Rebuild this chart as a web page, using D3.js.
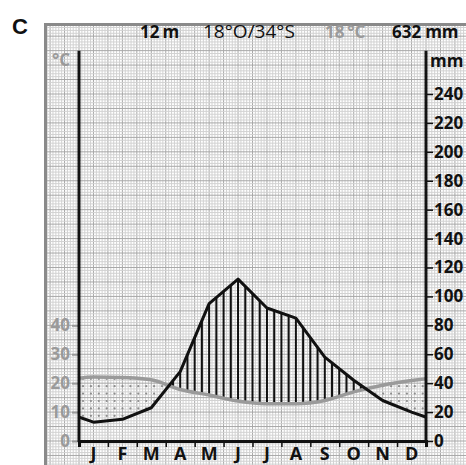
<!DOCTYPE html>
<html><head><meta charset="utf-8">
<script src="https://cdn.jsdelivr.net/npm/d3@7"></script>
<style>
html,body{margin:0;padding:0;background:#fff;}
svg{display:block;font-family:"Open Sans",sans-serif;}
</style></head>
<body><svg id="c" width="466" height="465"></svg>
<script>
const months = ["J","F","M","A","M","J","J","A","S","O","N","D"];
const tempC = [22.1, 22.0, 21.2, 17.8, 15.9, 13.8, 12.9, 12.9, 14.0, 17.0, 19.3, 20.9];
const precipMm = [13, 15, 23, 48, 95, 112, 92, 85, 58, 42, 28, 20];
const tempTicks = [0, 10, 20, 30, 40];
const precipTicks = [0,20,40,60,80,100,120,140,160,180,200,220,240];
const header = {elev:"12", coords:"18°O/34°S", mean:"18", total:"632"};

const svg = d3.select("#c");
const x = d3.scaleLinear().domain([0, 12]).range([79, 426]);
const yP = d3.scaleLinear().domain([0, 240]).range([441, 94]);
const yT = d3.scaleLinear().domain([0, 120]).range([441, 94]);

// grid
const grid = svg.append("g");
const gx0 = x.invert(47), gx1 = x.invert(466);
const gy0 = yP.invert(465), gy1 = yP.invert(26);
for (let k = Math.ceil(gx0*10); k <= gx1*10; k++) {
  const major = k % 5 === 0;
  grid.append("line").attr("x1", x(k/10)).attr("x2", x(k/10)).attr("y1", 26).attr("y2", 465)
    .attr("stroke", major ? "#a8a8a8" : "#d2d2d2").attr("stroke-width", 1);
}
for (let k = Math.ceil(gy0/2); k <= gy1/2; k++) {
  const major = k % 5 === 0;
  grid.append("line").attr("y1", yP(k*2)).attr("y2", yP(k*2)).attr("x1", 47).attr("x2", 466)
    .attr("stroke", major ? "#a8a8a8" : "#d2d2d2").attr("stroke-width", 1);
}
// frame
svg.append("rect").attr("x",44).attr("y",23).attr("width",3).attr("height",442).attr("fill","#8a8a8a");
svg.append("rect").attr("x",44).attr("y",23).attr("width",422).attr("height",3).attr("fill","#8a8a8a");

// cyclic data (Dec before Jan, Jan after Dec) clipped to plot
const cyc = arr => [{m:-0.5, v:arr[11]}, ...arr.map((v,i)=>({m:i+0.5, v})), {m:12.5, v:arr[0]}];
const pData = cyc(precipMm), tData = cyc(tempC);

const defs = svg.append("defs");
defs.append("clipPath").attr("id","plot").append("rect")
  .attr("x", x(0)).attr("y", yP(270)).attr("width", x(12)-x(0)).attr("height", yP(0)-yP(270));
const tCurve = d3.curveMonotoneX;
const belowP = d3.area().x(d=>x(d.m)).y0(yP(0)+5).y1(d=>yP(d.v));
const aboveP = d3.area().x(d=>x(d.m)).y0(0).y1(d=>yP(d.v));
const belowT = d3.area().curve(tCurve).x(d=>x(d.m)).y0(yP(0)+5).y1(d=>yT(d.v));
const aboveT = d3.area().curve(tCurve).x(d=>x(d.m)).y0(0).y1(d=>yT(d.v));
defs.append("clipPath").attr("id","belowP").append("path").attr("d", belowP(pData));
defs.append("clipPath").attr("id","aboveP").append("path").attr("d", aboveP(pData));
defs.append("clipPath").attr("id","belowT").append("path").attr("d", belowT(tData));
defs.append("clipPath").attr("id","aboveT").append("path").attr("d", aboveT(tData));

const plot = svg.append("g").attr("clip-path","url(#plot)");
// humid hatch
const humid = plot.append("g").attr("clip-path","url(#belowP)").append("g").attr("clip-path","url(#aboveT)");
for (let k = 0; k <= 48; k++) {
  humid.append("line").attr("x1", x(k/4)).attr("x2", x(k/4)).attr("y1", yP(270)).attr("y2", yP(0))
    .attr("stroke","#111").attr("stroke-width",2);
}
// arid dots
const arid = plot.append("g").attr("clip-path","url(#belowT)").append("g").attr("clip-path","url(#aboveP)");
for (let i = 0; i < 60; i++) {
  for (let j = 0; j < 12; j++) {
    arid.append("circle").attr("cx", x(0) + 4 + i*7.9).attr("cy", yP(0) - 3 - j*7.4)
      .attr("r", 1.1).attr("fill", "#8c8c8c");
  }
}
// lines
plot.append("path").attr("d", d3.line().curve(tCurve).x(d=>x(d.m)).y(d=>yT(d.v))(tData))
  .attr("fill","none").attr("stroke","#9a9a9a").attr("stroke-width",3.5);
plot.append("path").attr("d", d3.line().x(d=>x(d.m)).y(d=>yP(d.v))(pData))
  .attr("fill","none").attr("stroke","#111").attr("stroke-width",3).attr("stroke-linejoin","round");

// axes
const leftAx = svg.append("g").attr("transform",`translate(${x(0)},0)`)
  .call(d3.axisLeft(yT).tickValues(tempTicks).tickSize(7).tickPadding(2));
leftAx.select(".domain").remove();
leftAx.selectAll("line").attr("stroke","#9a9a9a").attr("stroke-width",2);
leftAx.selectAll("text").attr("fill","#9a9a9a").attr("font-size",17).attr("font-weight","bold")
  .attr("font-family","Open Sans");

const rightAx = svg.append("g").attr("transform",`translate(${x(12)},0)`)
  .call(d3.axisRight(yP).tickValues(precipTicks).tickSize(7).tickPadding(1));
rightAx.select(".domain").remove();
rightAx.selectAll("line").attr("stroke","#111").attr("stroke-width",1.5);
rightAx.selectAll("text").attr("fill","#111").attr("font-size",17).attr("font-weight","bold")
  .attr("font-family","Open Sans");

// axis lines
svg.append("line").attr("x1",x(0)).attr("x2",x(0)).attr("y1",yP(270)).attr("y2",yP(0)+1)
  .attr("stroke","#111").attr("stroke-width",3);
svg.append("line").attr("x1",x(12)).attr("x2",x(12)).attr("y1",yP(270)).attr("y2",yP(0)+1)
  .attr("stroke","#111").attr("stroke-width",3);

const bx = svg.append("g").attr("transform",`translate(0,${yP(0)})`)
  .call(d3.axisBottom(x).tickValues(d3.range(13)).tickSize(6).tickFormat(""));
bx.select(".domain").attr("stroke","#111").attr("stroke-width",3);
bx.selectAll("line").attr("stroke","#111").attr("stroke-width",1.5);
const xm = d3.scaleBand().domain(d3.range(12)).range([x(0), x(12)]);
const bl = svg.append("g").attr("transform",`translate(0,${yP(0)})`)
  .call(d3.axisBottom(xm).tickSize(0).tickPadding(6).tickFormat(i=>months[i]));
bl.select(".domain").remove();
bl.selectAll("text").attr("fill","#111").attr("font-size",18).attr("font-weight","bold")
  .attr("font-family","Open Sans");

// unit labels
svg.append("text").attr("x",52).attr("y",66).attr("fill","#9a9a9a").attr("font-size",17)
  .attr("font-weight","bold").text("°C");
svg.append("text").attr("x",430).attr("y",67).attr("fill","#111").attr("font-size",17)
  .attr("font-weight","bold").text("mm");

// header
svg.append("text").attr("x",12).attr("y",34).attr("font-family","Liberation Sans, Arial")
  .attr("font-size",22).attr("font-weight","bold").attr("fill","#111").text("C");
const hy = 38;
const h1 = svg.append("text").attr("x",140).attr("y",hy).attr("font-size",17).attr("font-weight","bold").attr("fill","#111");
h1.append("tspan").text(header.elev);
h1.append("tspan").attr("dx",3).text("m");
svg.append("text").attr("x",203).attr("y",hy).attr("font-size",19).attr("fill","#111").text(header.coords);
svg.append("text").attr("x",325).attr("y",hy).attr("font-size",17).attr("font-weight","bold").attr("fill","#9a9a9a")
  .text(header.mean + "\u2009°C");
const h4 = svg.append("text").attr("x",392).attr("y",hy).attr("font-size",17).attr("font-weight","bold").attr("fill","#111");
h4.append("tspan").text(header.total);
h4.append("tspan").attr("dx",4).text("mm");
</script></body></html>
